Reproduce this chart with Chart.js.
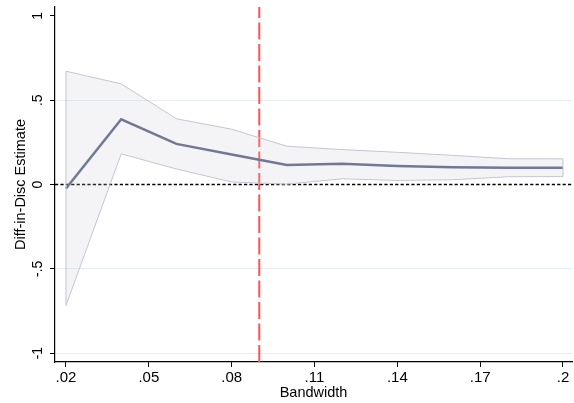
<!DOCTYPE html>
<html>
<head>
<meta charset="utf-8">
<script src="https://cdn.jsdelivr.net/npm/chart.js@4.4.1/dist/chart.umd.min.js"></script>
<style>
  html, body { margin: 0; padding: 0; background: #fff; }
  #wrap { width: 574px; height: 403px; position: relative; }
</style>
</head>
<body>
<div id="wrap"><canvas id="chart-rdd"></canvas></div>
<script>
const bandwidths = [0.02, 0.04, 0.06, 0.08, 0.10, 0.12, 0.14, 0.16, 0.18, 0.20];
const estimates  = [-0.024, 0.387, 0.241, 0.178, 0.116, 0.123, 0.110, 0.103, 0.099, 0.099];
const upperCI    = [0.672, 0.597, 0.390, 0.328, 0.227, 0.207, 0.191, 0.173, 0.153, 0.152];
const lowerCI    = [-0.718, 0.182, 0.092, 0.015, 0.002, 0.034, 0.024, 0.028, 0.046, 0.047];

const xTicks = [0.02, 0.05, 0.08, 0.11, 0.14, 0.17, 0.2];
const yTicks = [-1, -0.5, 0, 0.5, 1];
const cutoff = 0.09;
const zeroLine = 0;

const FONT = "'Liberation Sans', Arial, Helvetica, sans-serif";

// stata style labels: .05 instead of 0.05
const stataLabel = v => String(v).replace(/^(-?)0\./, '$1.');
const pairs = ys => bandwidths.map((x, i) => ({ x: x, y: ys[i] }));

// zero line and cutoff line go under the band, band caps on top of it
const refLines = {
  id: 'refLines',
  beforeDatasetsDraw(chart) {
    const { ctx, chartArea, scales } = chart;
    const y0 = scales.y.getPixelForValue(zeroLine);
    const xc = scales.x.getPixelForValue(cutoff);
    ctx.save();
    ctx.strokeStyle = '#000';
    ctx.lineWidth = 1.3;
    ctx.setLineDash([3.2, 2.2]);
    ctx.beginPath();
    ctx.moveTo(chartArea.left, y0);
    ctx.lineTo(chartArea.right, y0);
    ctx.stroke();

    ctx.strokeStyle = '#FF5252';
    ctx.lineWidth = 2;
    ctx.setLineDash([17, 4.5]);
    ctx.beginPath();
    ctx.moveTo(xc, chartArea.bottom);
    ctx.lineTo(xc, chartArea.top);
    ctx.stroke();
    ctx.restore();
  },
  afterDatasetDraw(chart, args) {
    if (args.index !== 1) return;
    const { ctx, scales } = chart;
    ctx.save();
    ctx.strokeStyle = '#C3C5D2';
    ctx.lineWidth = 1;
    [0, bandwidths.length - 1].forEach(i => {
      const x = scales.x.getPixelForValue(bandwidths[i]);
      ctx.beginPath();
      ctx.moveTo(x, scales.y.getPixelForValue(upperCI[i]));
      ctx.lineTo(x, scales.y.getPixelForValue(lowerCI[i]));
      ctx.stroke();
    });
    ctx.restore();
  }
};

new Chart(document.getElementById('chart-rdd'), {
  type: 'line',
  data: {
    datasets: [
      {
        label: 'upper',
        data: pairs(upperCI),
        borderColor: '#C3C5D2',
        borderWidth: 1,
        backgroundColor: 'rgba(200,200,214,0.2)',
        fill: '+1',
        pointRadius: 0
      },
      {
        label: 'lower',
        data: pairs(lowerCI),
        borderColor: '#C3C5D2',
        borderWidth: 1,
        fill: false,
        pointRadius: 0
      },
      {
        label: 'estimate',
        data: pairs(estimates),
        borderColor: '#5B6585',
        borderWidth: 2.5,
        fill: false,
        pointRadius: 0
      }
    ]
  },
  options: {
    responsive: true,
    maintainAspectRatio: false,
    animation: false,
    layout: { padding: { top: 7, right: 2, left: 0, bottom: 0 } },
    plugins: {
      legend: { display: false },
      tooltip: { enabled: false }
    },
    scales: {
      x: {
        type: 'linear',
        min: 0.01602,
        max: 0.20326,
        afterBuildTicks: scale => { scale.ticks = xTicks.map(v => ({ value: v })); },
        afterFit: scale => {
          scale.height = 41;
          scale.paddingLeft = 0;
          scale.paddingRight = 0;
        },
        grid: { drawOnChartArea: false, tickLength: 5, tickColor: '#000' },
        border: { display: true, color: '#000', width: 1.2 },
        ticks: {
          color: '#000',
          padding: 2,
          maxRotation: 0,
          font: { family: FONT, size: 15 },
          callback: v => stataLabel(v)
        },
        title: {
          display: true,
          text: 'Bandwidth',
          color: '#000',
          font: { family: FONT, size: 14.5 },
          padding: { top: 0, bottom: 1.5 }
        }
      },
      y: {
        min: -1.053,
        max: 1.053,
        afterBuildTicks: scale => { scale.ticks = yTicks.map(v => ({ value: v })); },
        afterFit: scale => {
          scale.width = 55;
          scale.paddingTop = 0;
          scale.paddingBottom = 0;
        },
        grid: {
          tickLength: 5,
          tickColor: '#000',
          lineWidth: 1,
          color: c => (c.tick && (c.tick.value === 1 || c.tick.value === 0)) ? 'rgba(0,0,0,0)' : '#E6EEF0'
        },
        border: { display: true, color: '#000', width: 1.2 },
        ticks: {
          color: '#000',
          padding: 4,
          minRotation: 90,
          maxRotation: 90,
          crossAlign: 'center',
          font: { family: FONT, size: 14 },
          callback: v => stataLabel(v)
        },
        title: {
          display: true,
          text: 'Diff-in-Disc Estimate',
          color: '#000',
          font: { family: FONT, size: 14.5 },
          padding: { top: 12, bottom: 0 }
        }
      }
    }
  },
  plugins: [refLines]
});
</script>
</body>
</html>
